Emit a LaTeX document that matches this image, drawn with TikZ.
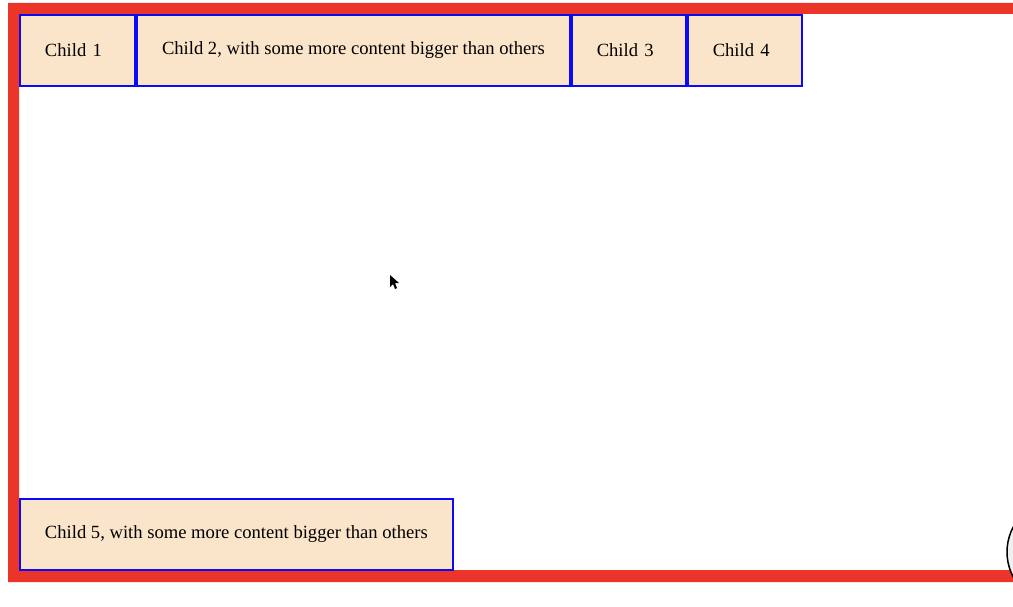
\documentclass[tikz,border=0pt]{standalone}
\usepackage{fontspec}
\setmainfont{Liberation Serif}
\usetikzlibrary{positioning}
\definecolor{framered}{RGB}{234,53,40}
\definecolor{boxfill}{RGB}{250,228,202}
\definecolor{boxblue}{RGB}{10,10,245}
\tikzset{
  childbox/.style={draw=boxblue,line width=2pt,fill=boxfill,inner xsep=25pt,inner ysep=0pt,
    minimum height=71pt,align=left,font=\fontsize{18.6}{22}\selectfont}
}

\begin{document}
\begin{tikzpicture}[x=1pt,y=-1pt]
      \useasboundingbox (0,0) rectangle (1013,607);
      \clip (0,0) rectangle (1013,607);
      \fill[white] (0,0) rectangle (1013,607);
      \fill[framered,even odd rule] (8,3) rectangle (1040,582) (19,14) rectangle (1030,570);
      \node[childbox,text width=65pt,anchor=north west] (c1) at (19,14) {Child 1};
      \node[childbox,right=0pt of c1] (c2) {Child 2, with some more content bigger than others};
      \node[childbox,text width=64pt,right=0pt of c2] (c3) {Child 3};
      \node[childbox,text width=64pt,right=0pt of c3] (c4) {Child 4};
      \node[childbox,anchor=south west] (c5) at (19,571) {Child 5, with some more content bigger than others};
      \fill[black] (390,275) -- (390,287) -- (393,284) -- (395,289) -- (397,288) -- (395,283) -- (399,283) -- cycle;
      \draw[line width=1.5pt,fill=gray!12] (1060,552) circle[radius=53];
    \end{tikzpicture}
\end{document}
